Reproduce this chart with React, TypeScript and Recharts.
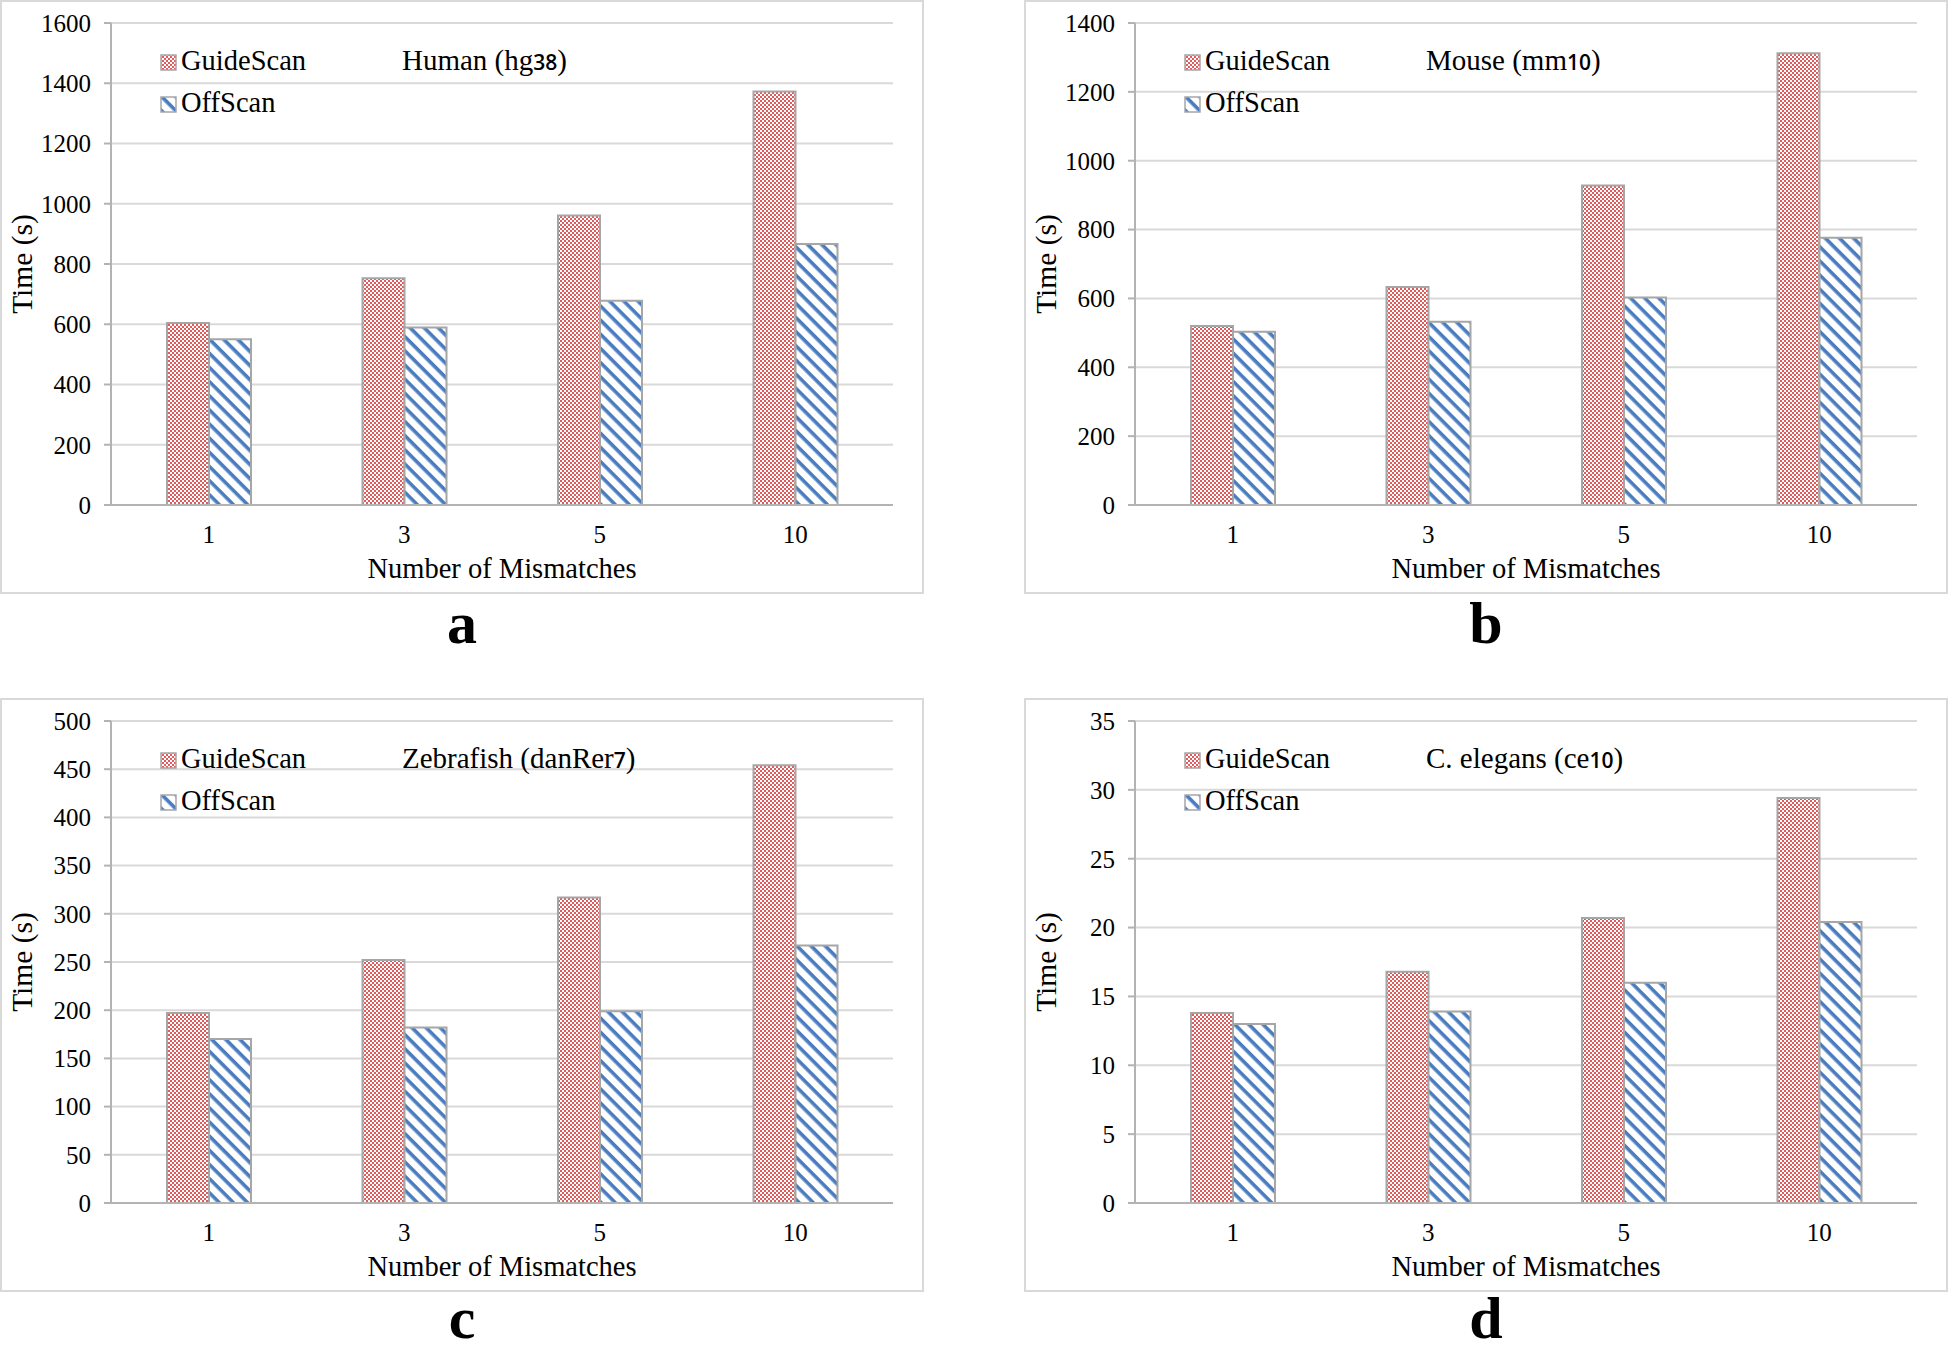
import React from 'react';
import { BarChart, Bar, XAxis, YAxis, CartesianGrid, Legend } from 'recharts';

// mismatch counts on the x axis
const mismatches = ['1', '3', '5', '10'];
const seriesNames = ['GuideScan', 'OffScan'];

// run times in seconds
const humanGuide = [604, 753, 961, 1373];
const humanOff = [550, 589, 678, 866];
const mouseGuide = [520, 633, 928, 1312];
const mouseOff = [503, 532, 603, 776];
const zebraGuide = [197, 252, 317, 454];
const zebraOff = [170, 182, 199, 267];
const celegGuide = [13.8, 16.8, 20.7, 29.4];
const celegOff = [13.0, 13.9, 16.0, 20.4];

const humanTicks = [0, 200, 400, 600, 800, 1000, 1200, 1400, 1600];
const mouseTicks = [0, 200, 400, 600, 800, 1000, 1200, 1400];
const zebraTicks = [0, 50, 100, 150, 200, 250, 300, 350, 400, 450, 500];
const celegTicks = [0, 5, 10, 15, 20, 25, 30, 35];

const FONT = '"Liberation Serif", "Times New Roman", serif';
const RED = '#e05c5c';
const BLUE = '#4a7cc0';
const BORDER = '#a6a6a6';

const W = 924;
const H = 592;

function toRows(guide: number[], off: number[]) {
  return mismatches.map((m, i) => ({ m, guide: guide[i], off: off[i] }));
}

function Patterns({ id }: { id: string }) {
  return (
    <defs>
      <pattern id={`${id}-chk`} patternUnits="userSpaceOnUse" width={4} height={4}>
        <rect x={0} y={0} width={4} height={4} fill="#fff" />
        <rect x={0} y={0} width={2} height={2} fill={RED} />
        <rect x={2} y={2} width={2} height={2} fill={RED} />
      </pattern>
      <pattern
        id={`${id}-str`}
        patternUnits="userSpaceOnUse"
        width={10}
        height={10}
        patternTransform="rotate(45)"
      >
        <rect x={0} y={0} width={10} height={10} fill="#fff" />
        <rect x={0} y={0} width={10} height={3.6} fill={BLUE} />
      </pattern>
    </defs>
  );
}

function LegendBox({ id, title, sub }: { id: string; title: string; sub: string }) {
  return (
    <svg width={460} height={90} style={{ overflow: 'visible' }}>
      <Patterns id={`${id}-lg`} />
      <rect x={11} y={15} width={15} height={15} fill={`url(#${id}-lg-chk)`} stroke={BORDER} strokeWidth={1.5} />
      <text x={31} y={30} fontFamily={FONT} fontSize={28.5} fill="#000">{seriesNames[0]}</text>
      <text x={252} y={30} fontFamily={FONT} fontSize={29} fill="#000">
        {title}
        <tspan fontFamily='"Open Sans", sans-serif' fontSize={21} fontWeight={600}>{sub}</tspan>
        )
      </text>
      <rect x={11} y={57} width={15} height={15} fill={`url(#${id}-lg-str)`} stroke={BORDER} strokeWidth={1.5} />
      <text x={31} y={72} fontFamily={FONT} fontSize={28.5} fill="#000">{seriesNames[1]}</text>
    </svg>
  );
}

interface PanelProps {
  id: string;
  left: number;
  top: number;
  guide: number[];
  off: number[];
  ticks: number[];
  title: string;
  sub: string;
}

function Panel({ id, left, top, guide, off, ticks, title, sub }: PanelProps) {
  const data = toRows(guide, off);
  const max = ticks[ticks.length - 1];
  return (
    <>
      <div
        style={{
          position: 'absolute',
          left,
          top,
          width: W,
          height: H + 2,
          boxSizing: 'border-box',
          border: '2px solid #d9d9d9',
        }}
      />
      <div style={{ position: 'absolute', left, top }}>
        <BarChart
          width={W}
          height={H}
          data={data}
          barGap={0}
          margin={{ top: 23, right: 31, bottom: 7, left: 0 }}
        >
          <Patterns id={id} />
          <CartesianGrid vertical={false} stroke="#d9d9d9" strokeWidth={2} />
          <XAxis
            dataKey="m"
            tickLine={false}
            axisLine={{ stroke: '#b3b3b3', strokeWidth: 2 }}
            tickMargin={14}
            height={80}
            tick={{ fill: '#000', fontSize: 25, fontFamily: FONT }}
            label={{
              value: 'Number of Mismatches',
              position: 'insideBottom',
              offset: 7,
              fill: '#000',
              fontSize: 28.5,
              fontFamily: FONT,
            }}
          />
          <YAxis
            width={111}
            domain={[0, max]}
            ticks={ticks}
            interval={0}
            tickSize={7}
            tickMargin={13}
            axisLine={{ stroke: '#b3b3b3', strokeWidth: 2 }}
            tickLine={{ stroke: '#b3b3b3', strokeWidth: 2 }}
            tick={{ fill: '#000', fontSize: 25, fontFamily: FONT }}
            label={{
              value: 'Time (s)',
              angle: -90,
              position: 'insideLeft',
              offset: 22,
              fill: '#000',
              fontSize: 29.5,
              fontFamily: FONT,
              style: { textAnchor: 'middle' },
            }}
          />
          <Legend
            layout="vertical"
            align="center"
            verticalAlign="middle"
            wrapperStyle={{ left: 150, top: 40, width: 460, height: 90 }}
            content={() => <LegendBox id={id} title={title} sub={sub} />}
          />
          <Bar
            dataKey="guide"
            name={seriesNames[0]}
            fill={`url(#${id}-chk)`}
            stroke={BORDER}
            strokeWidth={2}
            barSize={42}
            isAnimationActive={false}
          />
          <Bar
            dataKey="off"
            name={seriesNames[1]}
            fill={`url(#${id}-str)`}
            stroke={BORDER}
            strokeWidth={2}
            barSize={42}
            isAnimationActive={false}
          />
        </BarChart>
      </div>
    </>
  );
}

export default function App() {
  return (
    <div
      style={{
        position: 'absolute',
        left: 0,
        top: 0,
        width: 1948,
        height: 1352,
        background: '#fff',
        overflow: 'hidden',
      }}
    >
      <Panel id="a" left={0} top={0} guide={humanGuide} off={humanOff} ticks={humanTicks} title="Human (hg" sub="38" />
      <Panel id="b" left={1024} top={0} guide={mouseGuide} off={mouseOff} ticks={mouseTicks} title="Mouse (mm" sub="10" />
      <Panel id="c" left={0} top={698} guide={zebraGuide} off={zebraOff} ticks={zebraTicks} title="Zebrafish (danRer" sub="7" />
      <Panel id="d" left={1024} top={698} guide={celegGuide} off={celegOff} ticks={celegTicks} title="C. elegans (ce" sub="10" />
      <svg width={1948} height={1352} style={{ position: 'absolute', left: 0, top: 0, pointerEvents: 'none' }}>
        {['a', 'b', 'c', 'd'].map((l, i) => (
          <text
            key={l}
            x={i % 2 === 0 ? 462 : 1486}
            y={i < 2 ? 643 : 1338}
            textAnchor="middle"
            fontFamily={FONT}
            fontWeight="bold"
            fontSize={60}
            fill="#000"
          >
            {l}
          </text>
        ))}
      </svg>
    </div>
  );
}
